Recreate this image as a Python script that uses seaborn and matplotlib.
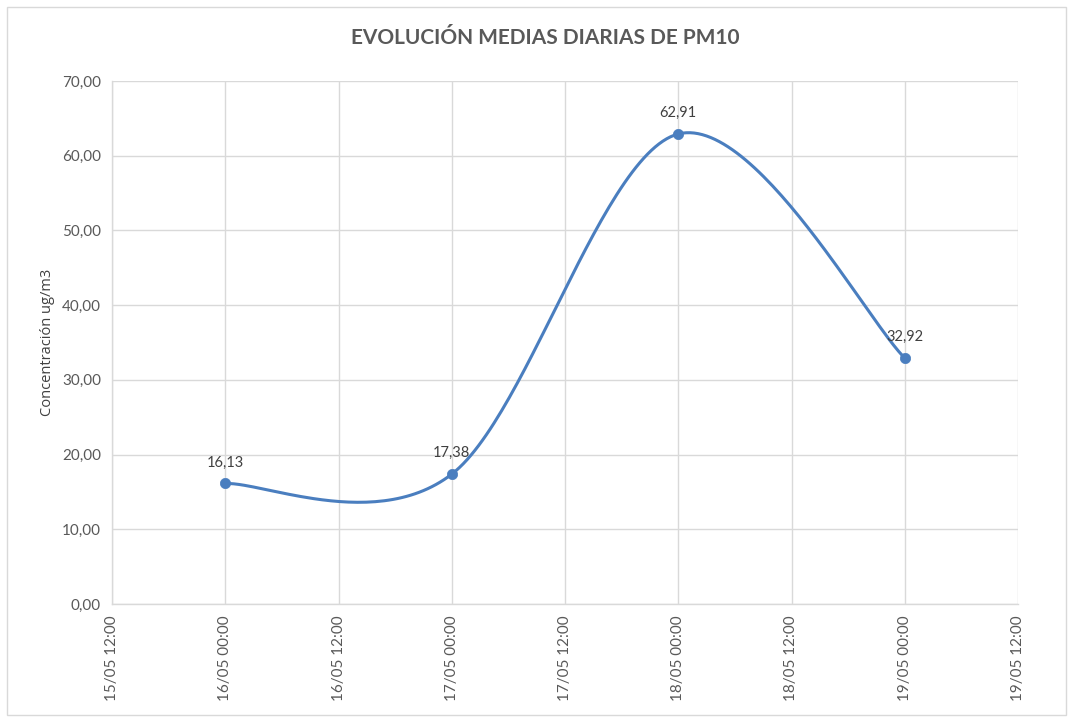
import numpy as np
import pandas as pd
import matplotlib
matplotlib.use("Agg")
import matplotlib.pyplot as plt
import seaborn as sns
from matplotlib.patches import Rectangle

# ---- data ----
dates = ["16/05 00:00", "17/05 00:00", "18/05 00:00", "19/05 00:00"]
day_pos = [1.0, 2.0, 3.0, 4.0]          # days since 15/05 00:00
values = [16.13, 17.38, 62.91, 32.92]
value_labels = ["16,13", "17,38", "62,91", "32,92"]
tick_pos = [0.5, 1.0, 1.5, 2.0, 2.5, 3.0, 3.5, 4.0, 4.5]
tick_labels = ["15/05 12:00", "16/05 00:00", "16/05 12:00", "17/05 00:00",
               "17/05 12:00", "18/05 00:00", "18/05 12:00", "19/05 00:00",
               "19/05 12:00"]
y_ticks = [0, 10, 20, 30, 40, 50, 60, 70]
y_tick_labels = ["0,00", "10,00", "20,00", "30,00", "40,00", "50,00", "60,00", "70,00"]
title = "EVOLUCIÓN MEDIAS DIARIAS DE PM10"
ylabel = "Concentración ug/m3"

sns.set_theme(style="white")
plt.rcParams["font.family"] = ["Lato", "DejaVu Sans"]

TXT = "#595959"
GRID = "#d9d9d9"
BLUE = "#4a7ebf"

fig = plt.figure(figsize=(10.73, 7.22), dpi=100)
fig.patch.set_facecolor("white")
fig.patches.append(Rectangle((7 / 1073, 7 / 722), 1 - 14 / 1073, 1 - 14 / 722,
                             transform=fig.transFigure, fill=False,
                             edgecolor=GRID, linewidth=1.0))
ax = fig.add_axes([112 / 1073, 1 - 604 / 722, (1018 - 112) / 1073, (604 - 81) / 722])

# Excel-style smoothing (Catmull-Rom Bezier) computed in axis-normalized space
xr = (0.5, 4.5)
yr = (0, 70)
W, H = 906.0, 523.0
px = [(x - xr[0]) / (xr[1] - xr[0]) * W for x in day_pos]
py = [(y - yr[0]) / (yr[1] - yr[0]) * H for y in values]
P = np.array(list(zip(px, py)))
n = len(P)
sx, sy = [], []
t = np.linspace(0, 1, 60)
for i in range(n - 1):
    p0 = P[i - 1] if i > 0 else P[i]
    p1 = P[i]
    p2 = P[i + 1]
    p3 = P[i + 2] if i + 2 < n else P[i + 1]
    c1 = p1 + (p2 - p0) / 6.0
    c2 = p2 - (p3 - p1) / 6.0
    seg = ((1 - t) ** 3)[:, None] * p1 + (3 * (1 - t) ** 2 * t)[:, None] * c1 + \
          (3 * (1 - t) * t ** 2)[:, None] * c2 + (t ** 3)[:, None] * p2
    sx.extend(seg[:, 0])
    sy.extend(seg[:, 1])
smooth = pd.DataFrame({
    "x": np.array(sx) / W * (xr[1] - xr[0]) + xr[0],
    "y": np.array(sy) / H * (yr[1] - yr[0]) + yr[0],
})
pts = pd.DataFrame({"x": day_pos, "y": values})

sns.lineplot(data=smooth, x="x", y="y", ax=ax, color=BLUE, linewidth=2.2,
             sort=False, estimator=None)
sns.scatterplot(data=pts, x="x", y="y", ax=ax, color=BLUE, s=55,
                edgecolor=BLUE, linewidth=0.5, zorder=5)

for x, y, lab in zip(day_pos, values, value_labels):
    ax.annotate(lab, (x, y), xytext=(0, 15), textcoords="offset points",
                ha="center", va="center", fontsize=10.5, color="#404040")

ax.set_xlim(*xr)
ax.set_ylim(*yr)
ax.set_xticks(tick_pos)
ax.set_xticklabels(tick_labels, rotation=90, fontsize=11, color=TXT)
ax.set_yticks(y_ticks)
ax.set_yticklabels(y_tick_labels, fontsize=11, color=TXT)
ax.tick_params(axis="both", length=0, pad=8)
ax.grid(True, color=GRID, linewidth=1.0)
ax.set_axisbelow(True)
for s in ["top", "right"]:
    ax.spines[s].set_visible(False)
for s in ["left", "bottom"]:
    ax.spines[s].set_color(GRID)
    ax.spines[s].set_linewidth(1.0)
ax.set_xlabel("")
ax.set_ylabel(ylabel, fontsize=10.5, color="#404040", labelpad=5,
              family=["Open Sans", "DejaVu Sans"])
fig.text(545 / 1073, 1 - 38 / 722, title, ha="center", va="center",
         fontsize=15, fontweight="bold", color=TXT)

fig.savefig("out.png", dpi=100, facecolor="white")
